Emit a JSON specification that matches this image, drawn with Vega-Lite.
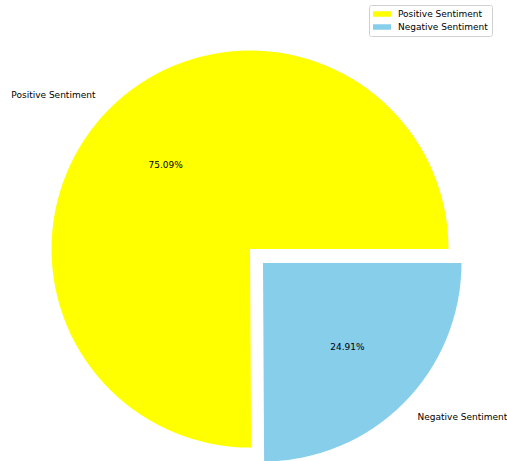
{
  "$schema": "https://vega.github.io/schema/vega-lite/v6.json",
  "width": 400,
  "height": 400,
  "autosize": {"type": "none"},
  "padding": {"left": 50, "top": 49, "right": 57, "bottom": 12},
  "background": "white",
  "config": {
    "view": {"stroke": null},
    "font": "DejaVu Sans",
    "legend": {
      "orient": "none",
      "legendX": 319,
      "legendY": -44,
      "symbolType": "M-1.8,-0.55H1.8V0.55H-1.8Z",
      "symbolSize": 100,
      "symbolStrokeWidth": 0,
      "symbolOffset": 4,
      "labelFontSize": 9,
      "labelFont": "DejaVu Sans",
      "labelColor": "black",
      "labelOffset": 11,
      "padding": 4,
      "rowPadding": 3,
      "strokeColor": "#d0d0d0",
      "fillColor": "white",
      "cornerRadius": 2
    }
  },
  "data": {
    "values": [
      {"sentiment": "Positive Sentiment", "pct": 75.09, "label": "75.09%"},
      {"sentiment": "Negative Sentiment", "pct": 24.91, "label": "24.91%"}
    ]
  },
  "encoding": {
    "theta": {"field": "pct", "type": "quantitative", "stack": true, "scale": {"range": [1.5708, 7.854]}},
    "order": {"field": "sentiment", "sort": "ascending"}
  },
  "layer": [
    {
      "mark": {"type": "arc", "outerRadius": 198.5},
      "encoding": {
        "color": {
          "field": "sentiment", "type": "nominal",
          "scale": {"domain": ["Positive Sentiment", "Negative Sentiment"], "range": ["#FFFF00", "#87CEEB"]},
          "legend": {"title": null}
        },
        "opacity": {"condition": {"test": "datum.sentiment === 'Positive Sentiment'", "value": 1}, "value": 0}
      }
    },
    {
      "mark": {"type": "arc", "outerRadius": 198.5, "xOffset": 13, "yOffset": 14},
      "encoding": {
        "color": {"field": "sentiment", "type": "nominal", "legend": null},
        "opacity": {"condition": {"test": "datum.sentiment === 'Negative Sentiment'", "value": 1}, "value": 0}
      }
    },
    {
      "mark": {"type": "text", "radius": 119, "fontSize": 9, "color": "black", "baseline": "middle", "align": "center"},
      "encoding": {
        "text": {"field": "label"},
        "opacity": {"condition": {"test": "datum.sentiment === 'Positive Sentiment'", "value": 1}, "value": 0}
      }
    },
    {
      "mark": {"type": "text", "radius": 119, "fontSize": 9, "color": "black", "baseline": "middle", "align": "center", "xOffset": 13, "yOffset": 14},
      "encoding": {
        "text": {"field": "label"},
        "opacity": {"condition": {"test": "datum.sentiment === 'Negative Sentiment'", "value": 1}, "value": 0}
      }
    },
    {
      "mark": {"type": "text", "radius": 218, "fontSize": 9, "color": "black", "baseline": "middle", "align": "right"},
      "encoding": {
        "text": {"field": "sentiment"},
        "opacity": {"condition": {"test": "datum.sentiment === 'Positive Sentiment'", "value": 1}, "value": 0}
      }
    },
    {
      "mark": {"type": "text", "radius": 218, "fontSize": 9, "color": "black", "baseline": "middle", "align": "left", "xOffset": 13, "yOffset": 14},
      "encoding": {
        "text": {"field": "sentiment"},
        "opacity": {"condition": {"test": "datum.sentiment === 'Negative Sentiment'", "value": 1}, "value": 0}
      }
    }
  ]
}
